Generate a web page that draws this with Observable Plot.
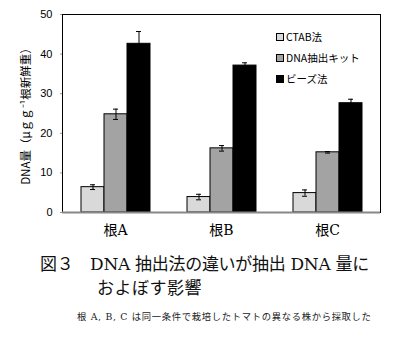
<!DOCTYPE html>
<html>
<head>
<meta charset="utf-8">
<script src="https://cdn.jsdelivr.net/npm/d3@7"></script>
<script src="https://cdn.jsdelivr.net/npm/@observablehq/plot@0.6"></script>
<style>
  html, body { margin: 0; padding: 0; background: #fff; }
  #wrap { position: relative; width: 400px; height: 343px; overflow: hidden; font-family: "Noto Sans CJK JP", sans-serif; }
  #legend { position: absolute; left: 276px; top: 26px; font-size: 10.5px; color: #000; font-family: "Noto Sans CJK JP", sans-serif; }
  #legend .item { display: flex; align-items: center; height: 21px; }
  #legend .sw { width: 6px; height: 6px; border: 1px solid #000; margin-right: 2px; }
  #title { font-size: 17px; line-height: 24px; margin-top: 7px; padding-left: 40px; color: #111; font-family: "DejaVu Serif", "Noto Sans CJK JP", serif; letter-spacing: -0.3px; }
  #title .l2 { padding-left: 57px; letter-spacing: 0.5px; }
  #caption { font-size: 9.3px; margin-top: 9px; padding-left: 77px; color: #222; letter-spacing: 0.7px; font-family: "DejaVu Serif", "Noto Sans CJK JP", serif; }
</style>
</head>
<body>
<div id="wrap">
  <div id="chart"></div>
  <div id="legend"></div>
  <div id="title"><div>図３　DNA 抽出法の違いが抽出 DNA 量に</div><div class="l2">およぼす影響</div></div>
  <div id="caption">根 A, B, C は同一条件で栽培したトマトの異なる株から採取した</div>
</div>
<script>
const groups = ["根A", "根B", "根C"];
const methods = ["CTAB法", "DNA抽出キット", "ビーズ法"];
const ctab = [6.4, 3.9, 4.9];
const kit = [24.8, 16.2, 15.2];
const beads = [42.6, 37.1, 27.6];
const ctabErr = [0.6, 0.7, 0.8];
const kitErr = [1.3, 0.7, 0.2];
const beadsErr = [3.1, 0.7, 1.0];
const colors = ["#d9d9d9", "#a3a3a3", "#000000"];
const yTicks = [0, 10, 20, 30, 40, 50];
const yLabel = "DNA量（μｇｇ⁻¹根新鮮重）";

const series = [ctab, kit, beads];
const errs = [ctabErr, kitErr, beadsErr];
const rows = [];
groups.forEach((g, gi) => {
  methods.forEach((m, mi) => {
    rows.push({group: g, method: m, value: series[mi][gi], err: errs[mi][gi]});
  });
});

const chart = Plot.plot({
  width: 400,
  height: 245,
  marginLeft: 61,
  marginRight: 19,
  marginTop: 14,
  marginBottom: 33,
  style: {fontFamily: "Liberation Sans, Arial, sans-serif", fontSize: "11px", color: "#000"},
  fx: {domain: groups, padding: 0, label: null},
  x: {domain: methods, paddingInner: 0, paddingOuter: 0.75, axis: null},
  y: {domain: [0, 50]},
  color: {domain: methods, range: colors},
  marks: [
    Plot.barY(rows, {fx: "group", x: "method", y: "value", fill: "method", stroke: "#000", strokeWidth: 1}),
    Plot.ruleX(rows, {fx: "group", x: "method", y1: d => d.value - d.err, y2: d => d.value + d.err, stroke: "#000", strokeWidth: 1}),
    Plot.tickY(rows, {fx: "group", x: "method", y: d => d.value + d.err, stroke: "#000", strokeWidth: 1, insetLeft: 9, insetRight: 9}),
    Plot.tickY(rows, {fx: "group", x: "method", y: d => d.value - d.err, stroke: "#000", strokeWidth: 1, insetLeft: 9, insetRight: 9}),
    Plot.frame({facet: "super", stroke: "#000", strokeWidth: 1}),
    Plot.ruleY([0], {stroke: "#888", strokeWidth: 2}),
    Plot.axisY({ticks: yTicks, tickSize: 2, tickPadding: 8, stroke: "#999", fontSize: 11, label: null}),
    Plot.axisY({ticks: [], tickSize: 0, label: yLabel, labelAnchor: "center", labelArrow: "none",
      labelOffset: 41, fontSize: 11.5, fontFamily: "Noto Sans CJK JP, sans-serif"}),
    Plot.axisFx({anchor: "bottom", tickSize: 0, tickPadding: 13, label: null, fontSize: 14,
      fontFamily: "DejaVu Serif, Noto Sans CJK JP, serif"})
  ]
});
document.getElementById("chart").appendChild(chart);

const legend = document.getElementById("legend");
methods.forEach((m, i) => {
  const item = document.createElement("div");
  item.className = "item";
  const sw = document.createElement("div");
  sw.className = "sw";
  sw.style.background = colors[i];
  const t = document.createElement("span");
  t.textContent = m;
  item.appendChild(sw);
  item.appendChild(t);
  legend.appendChild(item);
});
</script>
</body>
</html>
